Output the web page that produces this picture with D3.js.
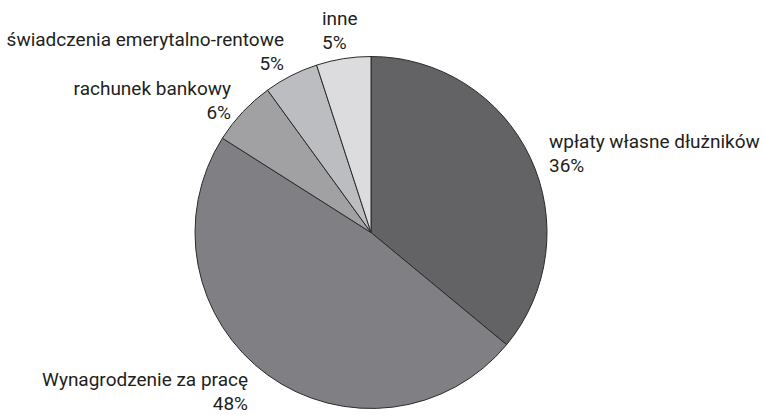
<!DOCTYPE html>
<html>
<head>
<meta charset="utf-8">
<script src="https://cdn.jsdelivr.net/npm/d3@7"></script>
<style>
  body { margin: 0; background: #fff; }
  svg { display: block; }
  text { font-family: Roboto, "Open Sans", sans-serif; font-size: 19px; fill: #231f20; }
</style>
</head>
<body>
<script>
// Data
const categories = ["wpłaty własne dłużników", "Wynagrodzenie za pracę", "rachunek bankowy", "świadczenia emerytalno-rentowe", "inne"];
const shares = [36, 48, 6, 5, 5];
const colors = ["#636366", "#808084", "#a1a1a4", "#bcbdc0", "#dcdcde"];

const width = 764, height = 415;
const cx = 371, cy = 232.5, radius = 176;

// label anchor spots (text x, first baseline, anchor)
const labelPos = [
    {x: 549, y: 148, anchor: "start"},
    {x: 248, y: 386, anchor: "end"},
    {x: 231, y: 95, anchor: "end"},
    {x: 284, y: 46, anchor: "end"},
    {x: 322, y: 25, anchor: "start"}
];

let svg = d3.select("body")
    .append("svg")
    .attr("width", width)
    .attr("height", height);

let pie = d3.pie()
    .sort(null)
    .value(d => d);

let arc = d3.arc()
    .innerRadius(0)
    .outerRadius(radius);

let arcs = pie(shares);

let g = svg.append("g")
    .attr("transform", `translate(${cx},${cy})`);

g.selectAll("path")
    .data(arcs)
    .enter().append("path")
    .attr("d", arc)
    .attr("fill", (d, i) => colors[i])
    .attr("stroke", "#2b2b2b")
    .attr("stroke-width", 1);

// labels: name on first line, percent below
let labels = svg.append("g")
    .selectAll("text")
    .data(arcs)
    .enter().append("text")
    .attr("x", (d, i) => labelPos[i].x)
    .attr("y", (d, i) => labelPos[i].y)
    .attr("text-anchor", (d, i) => labelPos[i].anchor);

labels.append("tspan")
    .attr("x", (d, i) => labelPos[i].x)
    .text((d, i) => categories[i]);

labels.append("tspan")
    .attr("x", (d, i) => labelPos[i].x)
    .attr("dy", 24)
    .text(d => d.data + "%");
</script>
</body>
</html>
